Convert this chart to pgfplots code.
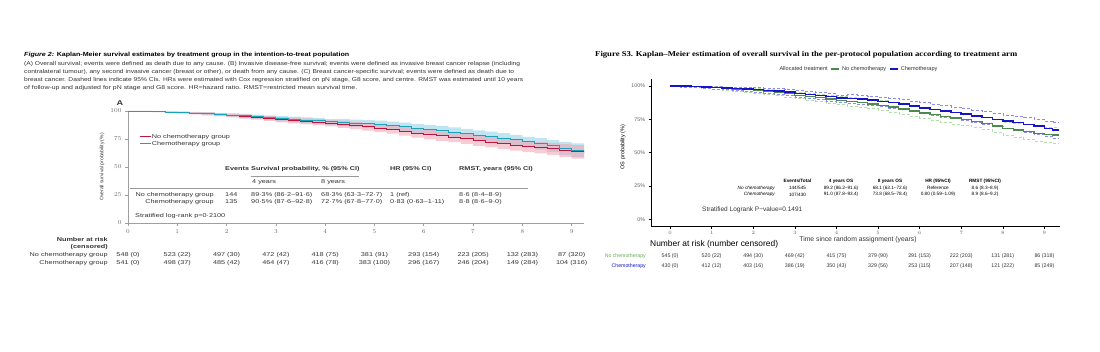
\documentclass[border=0pt]{standalone}
\usepackage{graphicx}
\usepackage{pgfplots}
\pgfplotsset{compat=1.18}
\usepackage{pgfplotstable}
\usepgfplotslibrary{fillbetween}
\usepackage{fontspec}
\setmainfont{Liberation Sans}
\newfontfamily\lft[FakeStretch=1.3]{Liberation Sans}
\newfontfamily\capf{Liberation Sans}
\newfontfamily\ser{Liberation Serif}

\definecolor{ncred}{HTML}{C0143C}
\definecolor{chteal}{HTML}{1BA3B5}
\definecolor{pinkband}{HTML}{F2A2B2}
\definecolor{blueband}{HTML}{94D4EA}
\definecolor{rblue}{HTML}{1414C8}
\definecolor{rgreen}{HTML}{4E8A4E}
\definecolor{rblued}{HTML}{8C8CF0}
\definecolor{rgreend}{HTML}{B4DEAC}
\definecolor{txt}{HTML}{333333}
\definecolor{rlabgreen}{HTML}{6AA85A}

% Left panel (A): no chemotherapy
\pgfplotstableread{
t s lo hi
0 100 100 100
0.25 99.8 99.5 100
0.5 99.4 98.9 99.8
0.75 99.0 98.3 99.6
1.0 98.6 97.7 99.4
1.25 98.1 97.0 99.1
1.5 97.5 96.2 98.7
1.75 96.8 95.3 98.1
2.0 96.0 94.3 97.5
2.25 95.2 93.3 96.9
2.5 94.3 92.2 96.2
2.75 93.4 91.1 95.5
3.0 92.4 89.9 94.6
3.25 91.6 88.9 94.0
3.5 90.9 88.1 93.4
3.75 90.1 87.1 92.8
4.0 89.3 86.2 91.6
4.25 88.3 85.0 91.3
4.5 87.3 83.8 90.4
4.75 86.1 82.5 89.3
5.0 84.9 81.1 88.3
5.25 83.6 79.7 87.1
5.5 82.2 78.1 85.9
5.75 80.4 76.2 84.2
6.0 79.0 74.7 82.9
6.25 77.8 73.4 81.8
6.5 76.6 72.1 80.7
6.75 75.2 70.6 79.3
7.0 73.6 68.9 77.8
7.25 72.3 67.5 76.6
7.5 70.9 66.0 75.3
7.75 69.6 64.6 74.1
8.0 68.3 63.3 72.7
8.25 67.4 62.1 72.2
8.5 66.3 60.7 71.3
8.75 65.0 59.0 70.4
9.0 63.8 57.4 69.6
9.25 63.2 56.6 69.1
}\Lnc
% Left panel (A): chemotherapy
\pgfplotstableread{
t s lo hi
0 100 100 100
0.25 99.8 99.5 100
0.5 99.5 99.0 99.9
0.75 99.1 98.4 99.7
1.0 98.7 97.8 99.5
1.25 98.2 97.1 99.2
1.5 97.7 96.4 98.9
1.75 97.1 95.6 98.4
2.0 96.4 94.7 97.9
2.25 95.7 93.8 97.4
2.5 94.9 92.8 96.8
2.75 94.0 91.7 96.1
3.0 93.2 90.7 95.4
3.25 92.5 89.8 94.9
3.5 91.8 89.0 94.3
3.75 91.2 88.2 93.9
4.0 90.5 87.6 92.8
4.25 89.9 86.6 92.9
4.5 89.3 85.8 92.4
4.75 88.6 85.0 91.8
5.0 87.9 84.1 91.3
5.25 87.0 83.1 90.5
5.5 85.9 81.8 89.6
5.75 84.7 80.5 88.5
6.0 83.6 79.3 87.5
6.25 82.5 78.1 86.5
6.5 81.3 76.8 85.4
6.75 80.0 75.4 84.1
7.0 78.6 73.9 82.8
7.25 77.2 72.4 81.5
7.5 75.8 70.9 80.2
7.75 74.2 69.2 78.7
8.0 72.7 67.8 77.0
8.25 70.9 65.6 75.7
8.5 68.9 63.3 73.9
8.75 66.8 60.8 72.2
9.0 65.2 58.8 71.0
9.25 64.8 58.2 70.7
}\Lch
% Right panel: no chemotherapy
\pgfplotstableread{
t s lo hi
0 100 100 100
0.25 99.8 99.4 100
0.5 99.4 98.8 99.9
0.75 99.0 98.2 99.7
1.0 98.6 97.6 99.5
1.25 98.2 97.0 99.3
1.5 97.7 96.3 99.0
1.75 97.1 95.5 98.6
2.0 96.5 94.7 98.2
2.25 95.8 93.9 97.7
2.5 95.0 92.9 97.1
2.75 94.1 91.8 96.4
3.0 93.1 90.6 95.6
3.25 92.2 89.5 94.9
3.5 91.3 88.5 94.1
3.75 90.3 87.3 93.2
4.0 89.2 86.2 92.2
4.25 88.3 85.1 91.3
4.5 87.4 84.1 90.6
4.75 86.5 83.0 89.9
5.0 85.4 81.8 89.0
5.25 84.2 80.5 87.9
5.5 82.8 79.0 86.6
5.75 81.3 77.3 85.3
6.0 79.8 75.7 83.9
6.25 78.5 74.3 82.7
6.5 77.2 72.9 81.5
6.75 76.0 71.6 80.4
7.0 74.8 70.3 79.3
7.25 73.4 68.8 78.0
7.5 72.0 67.3 76.7
7.75 70.0 65.2 74.8
8.0 68.1 63.1 72.6
8.25 67.0 61.8 71.9
8.5 65.8 60.3 71.0
8.75 64.5 58.8 70.0
9.0 63.6 57.6 69.4
9.2 63.3 57.2 69.3
9.35 63.3 57.2 69.3
}\Rnc
% Right panel: chemotherapy
\pgfplotstableread{
t s lo hi
0 100 100 100
0.25 99.8 99.4 100
0.5 99.5 98.9 99.9
0.75 99.2 98.4 99.8
1.0 98.8 97.8 99.6
1.25 98.4 97.2 99.4
1.5 98.0 96.6 99.1
1.75 97.6 96.0 98.9
2.0 97.2 95.4 98.7
2.25 96.7 94.7 98.4
2.5 96.1 93.9 98.0
2.75 95.3 92.9 97.4
3.0 94.5 91.9 96.8
3.25 93.7 90.9 96.2
3.5 93.0 90.0 95.6
3.75 92.0 88.9 94.7
4.0 91.0 87.8 93.4
4.25 90.6 87.2 93.5
4.5 90.1 86.5 93.2
4.75 89.4 85.6 92.6
5.0 88.5 84.6 91.8
5.25 87.5 83.5 91.0
5.5 86.3 82.2 90.0
5.75 85.0 80.8 88.8
6.0 83.6 79.3 87.5
6.25 82.4 78.0 86.4
6.5 81.2 76.7 85.3
6.75 80.1 75.5 84.3
7.0 78.9 74.2 83.2
7.25 77.6 72.8 82.0
7.5 76.3 71.4 80.8
7.75 75.0 70.0 79.6
8.0 73.8 68.5 78.4
8.25 72.5 67.0 77.5
8.5 71.2 65.5 76.5
8.75 69.8 64.0 75.2
9.0 68.2 62.2 73.8
9.2 66.9 60.7 72.7
9.35 66.9 60.7 72.7
}\Rch

\begin{document}
\begin{tikzpicture}

% ---------------- Left axis (A)
\begin{axis}[at={(128pt,128pt)}, anchor=south west, scale only axis,
  width=456pt, height=112pt,
  xmin=0, xmax=9.25, ymin=0, ymax=100,
  axis x line*=bottom, axis y line*=left,
  axis line style={gray!75, -, line width=0.6pt},
  xtick={0,1,2,3,4,5,6,7,8,9}, ytick={0,25,50,75,100},
  tick align=outside, major tick length=3pt,
  tick style={gray!75, line width=0.6pt},
  tick label style={font=\lft\fontsize{5.6}{6}\selectfont, text=gray!85!black},
  legend style={at={(0.018,0.82)}, anchor=north west, draw=none, fill=none,
    font=\lft\fontsize{5.6}{6}\selectfont, text=txt,
    nodes={inner sep=0.7pt}, row sep=0pt},
  legend cell align=left,
  legend image code/.code={\draw[#1] (0pt,0pt) -- (11pt,0pt);},
]
\addplot[const plot, draw=none, name path=ncu, forget plot] table[x=t,y=hi]{\Lnc};
\addplot[const plot, draw=none, name path=ncl, forget plot] table[x=t,y=lo]{\Lnc};
\addplot[const plot, draw=none, name path=chu, forget plot] table[x=t,y=hi]{\Lch};
\addplot[const plot, draw=none, name path=chl, forget plot] table[x=t,y=lo]{\Lch};
\addplot[fill=blueband, fill opacity=0.6, draw=none, forget plot] fill between[of=chu and chl];
\addplot[fill=pinkband, fill opacity=0.55, draw=none, forget plot] fill between[of=ncu and ncl];
\addplot[const plot, ncred, line width=0.8pt] table[x=t,y=s]{\Lnc};
\addlegendentry{No chemotherapy group}
\addplot[const plot, chteal, line width=0.8pt] table[x=t,y=s]{\Lch};
\addlegendentry{Chemotherapy group}
\end{axis}

% ---------------- Right axis (S3)
\begin{axis}[at={(651pt,125pt)}, anchor=south west, scale only axis,
  width=409pt, height=146.7pt,
  xmin=-0.46, xmax=9.375, ymin=-5, ymax=105,
  axis x line*=bottom, axis y line*=left,
  axis line style={black, -, line width=0.9pt},
  xtick={0,1,2,3,4,5,6,7,8,9}, ytick={0,25,50,75,100},
  yticklabels={0\%,25\%,50\%,75\%,100\%},
  tick align=outside, major tick length=2.5pt,
  tick style={black, line width=0.6pt},
  tick label style={font=\fontsize{5.3}{6}\selectfont, text=gray!75!black},
  xticklabel style={yshift=1.2pt},
  legend style={at={(0.3,1.07)}, anchor=west, draw=none, fill=none,
    font=\fontsize{5.6}{6}\selectfont, text=txt,
    nodes={inner sep=0.6pt}, column sep=2pt},
  legend columns=-1,
  legend image code/.code={\draw[#1] (0pt,0pt) -- (8pt,0pt);},
]
\addlegendimage{empty legend}\addlegendentry{Allocated treatment}
\addlegendimage{rgreen, line width=1.1pt}\addlegendentry{No chemotherapy}
\addlegendimage{rblue, line width=1.3pt}\addlegendentry{Chemotherapy}
\addplot[const plot, rgreend, densely dashed, line width=0.45pt, forget plot] table[x=t,y=lo]{\Rnc};
\addplot[const plot, rgreend, densely dashed, line width=0.45pt, forget plot] table[x=t,y=hi]{\Rnc};
\addplot[const plot, rblued, densely dashed, line width=0.45pt, forget plot] table[x=t,y=lo]{\Rch};
\addplot[const plot, rblued, densely dashed, line width=0.45pt, forget plot] table[x=t,y=hi]{\Rch};
\addplot[const plot, rgreen, line width=1.2pt, forget plot] table[x=t,y=s]{\Rnc};
\addplot[const plot, rblue, line width=1.5pt, forget plot] table[x=t,y=s]{\Rch};
\end{axis}

% ---------------- Texts (pixel coordinates, y downward)
\begin{scope}[x=1pt,y=-1pt,shift={(0pt,351pt)},
  lt/.style={font=\lft\fontsize{5.6}{6}\selectfont, text=txt, inner sep=0pt},
  ltb/.style={font=\lft\bfseries\fontsize{5.6}{6}\selectfont, text=txt, inner sep=0pt},
  rt/.style={font=\fontsize{4.7}{5}\selectfont, text=black, inner sep=0pt},
  rtb/.style={font=\bfseries\fontsize{4.7}{5}\selectfont, text=black, inner sep=0pt},
  rr/.style={font=\fontsize{5.3}{6}\selectfont, text=txt, inner sep=0pt}]

% left caption
\node[anchor=west, inner sep=0pt, text=black] at (24,55) {\resizebox{325pt}{\height}{\capf\bfseries\fontsize{6}{7}\selectfont \textit{Figure 2:} Kaplan-Meier survival estimates by treatment group in the intention-to-treat population}};
\node[anchor=west, inner sep=0pt, text=txt] at (24,64) {\resizebox{496pt}{\height}{\capf\fontsize{5.6}{7}\selectfont (A) Overall survival; events were defined as death due to any cause. (B) Invasive disease-free survival; events were defined as invasive breast cancer relapse (including}};
\node[anchor=west, inner sep=0pt, text=txt] at (24,72) {\resizebox{490pt}{\height}{\capf\fontsize{5.6}{7}\selectfont contralateral tumour), any second invasive cancer (breast or other), or death from any cause. (C) Breast cancer-specific survival; events were defined as death due to}};
\node[anchor=west, inner sep=0pt, text=txt] at (24,80) {\resizebox{499pt}{\height}{\capf\fontsize{5.6}{7}\selectfont breast cancer. Dashed lines indicate 95\% CIs. HRs were estimated with Cox regression stratified on pN stage, G8 score, and centre. RMST was estimated until 10 years}};
\node[anchor=west, inner sep=0pt, text=txt] at (24,88) {\resizebox{333pt}{\height}{\capf\fontsize{5.6}{7}\selectfont of follow-up and adjusted for pN stage and G8 score. HR=hazard ratio. RMST=restricted mean survival time.}};

\node[font=\lft\bfseries\fontsize{7}{8}\selectfont, text=txt, inner sep=0pt] at (120,103) {A};
\node[rotate=90, font=\fontsize{5}{6}\selectfont, text=txt, inner sep=0pt] at (102,167) {Overall survival probability (\%)};

% left inner table
\node[ltb, anchor=west] at (225,169) {Events};
\node[ltb, anchor=west] at (251,169) {Survival probability, \% (95\% CI)};
\draw[gray!80, line width=0.4pt] (251,176) -- (359,176);
\node[lt, anchor=west] at (252,182) {4 years};
\node[lt, anchor=west] at (321,182) {8 years};
\node[ltb, anchor=west] at (390,169) {HR (95\% CI)};
\node[ltb, anchor=west] at (459,169) {RMST, years (95\% CI)};
\draw[gray!80, line width=0.4pt] (130,188.5) -- (528,188.5);
\node[lt, anchor=east] at (214,195) {No chemotherapy group};
\node[lt, anchor=east] at (214,202) {Chemotherapy group};
\node[lt, anchor=west] at (225,195) {144};
\node[lt, anchor=west] at (225,202) {135};
\node[lt, anchor=west] at (251,195) {89·3\% (86·2–91·6)};
\node[lt, anchor=west] at (251,202) {90·5\% (87·6–92·8)};
\node[lt, anchor=west] at (321,195) {68·3\% (63·3–72·7)};
\node[lt, anchor=west] at (321,202) {72·7\% (67·8–77·0)};
\node[lt, anchor=west] at (390,195) {1 (ref)};
\node[lt, anchor=west] at (390,202) {0·83 (0·63–1·11)};
\node[lt, anchor=west] at (459,195) {8·6 (8·4–8·9)};
\node[lt, anchor=west] at (459,202) {8·8 (8·6–9·0)};
\node[lt, anchor=west] at (135,216) {Stratified log-rank p=0·2100};

% left number at risk
\node[ltb, anchor=east] at (108,239) {Number at risk};
\node[ltb, anchor=east] at (108,247) {(censored)};
\node[lt, anchor=east] at (108,255) {No chemotherapy group};
\node[lt, anchor=east] at (108,263) {Chemotherapy group};
\foreach \x/\a/\b in {128/548 (0)/541 (0),177.3/523 (22)/498 (37),226.6/497 (30)/485 (42),275.9/472 (42)/464 (47),325.2/418 (75)/416 (78),374.5/381 (91)/383 (100),423.8/293 (154)/296 (167),473.1/223 (205)/246 (204),522.4/132 (283)/149 (284),571.7/87 (320)/104 (316)}
{\node[lt] at (\x,255) {\a}; \node[lt] at (\x,263) {\b};}

% right title
\node[anchor=west, inner sep=0pt, text=black] at (595,55) {\resizebox{422pt}{\height}{\ser\bfseries\fontsize{7.5}{8}\selectfont Figure S3. Kaplan–Meier estimation of overall survival in the per-protocol population according to treatment arm}};

\node[rotate=90, font=\fontsize{5.5}{6}\selectfont, text=black, inner sep=0pt] at (623,147) {OS probability (\%)};
\node[font=\fontsize{6.8}{7}\selectfont, text=txt, inner sep=0pt] at (858,240) {Time since random assignment (years)};

% right inner table
\node[rtb] at (797.5,181) {Events/Total};
\node[rtb] at (841,181) {4 years OS};
\node[rtb] at (890,181) {8 years OS};
\node[rtb] at (938,181) {HR (95\%CI)};
\node[rtb] at (985,181) {RMST (95\%CI)};
\node[rt, anchor=east, font=\itshape\fontsize{4.7}{5}\selectfont] at (775,188) {No chemotherapy};
\node[rt, anchor=east, font=\itshape\fontsize{4.7}{5}\selectfont] at (775,194.5) {Chemotherapy};
\node[rt] at (797.5,188) {144/545};
\node[rt] at (797.5,194.5) {107/430};
\node[rt] at (841,188) {89.2 (86.2–91.6)};
\node[rt] at (841,194.5) {91.0 (87.8–93.4)};
\node[rt] at (890,188) {68.1 (63.1–72.6)};
\node[rt] at (890,194.5) {73.8 (68.5–78.4)};
\node[rt] at (938,188) {Reference};
\node[rt] at (938,194.5) {0.80 (0.59–1.09)};
\node[rt] at (985,188) {8.6 (8.3–8.9)};
\node[rt] at (985,194.5) {8.9 (8.6–9.2)};
\node[font=\fontsize{6.5}{7}\selectfont, text=txt, inner sep=0pt, anchor=west] at (702,210) {Stratified Logrank P−value=0.1491};

% right number at risk
\node[font=\fontsize{8.4}{9}\selectfont, text=black, inner sep=0pt, anchor=west] at (650,244.5) {Number at risk (number censored)};
\node[font=\fontsize{5.2}{6}\selectfont, text=rlabgreen, inner sep=0pt, anchor=east] at (646,256.5) {No chemotherapy};
\node[font=\fontsize{5.2}{6}\selectfont, text=rblue, inner sep=0pt, anchor=east] at (646,266) {Chemotherapy};
\foreach \x/\a/\b in {670/545 (0)/430 (0),711.6/520 (22)/412 (12),753.2/494 (30)/403 (16),794.8/469 (42)/386 (19),836.4/415 (75)/350 (43),878/379 (90)/329 (56),919.6/291 (153)/253 (115),961.2/222 (203)/207 (148),1002.8/131 (281)/121 (222),1044.4/86 (318)/85 (249)}
{\node[rr] at (\x,256.5) {\a}; \node[rr] at (\x,266) {\b};}
\end{scope}
\pgfresetboundingbox
\path[use as bounding box] (0pt,0pt) rectangle (1100pt,351pt);
\end{tikzpicture}
\end{document}
